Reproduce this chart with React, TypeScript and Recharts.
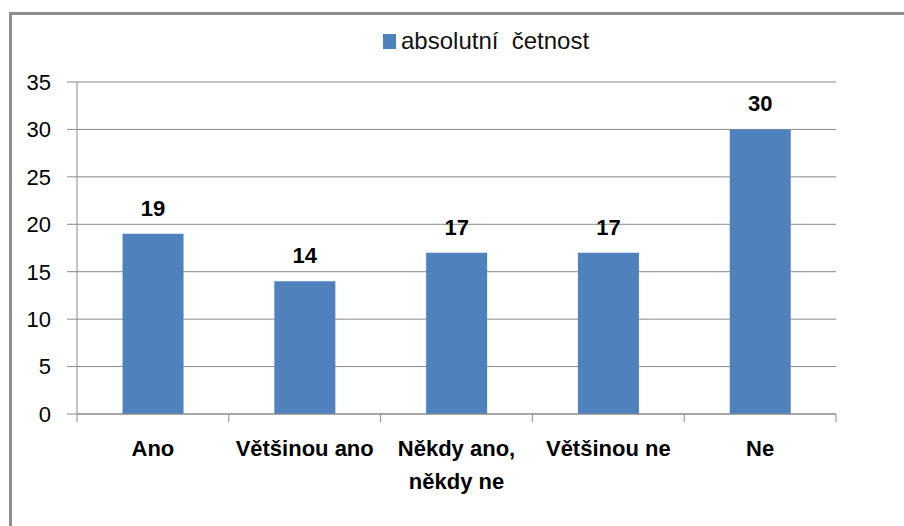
import { Bar, BarChart, CartesianGrid, LabelList, Legend, XAxis, YAxis } from "recharts";

const categories = ["Ano", "Většinou ano", "Někdy ano, někdy ne", "Většinou ne", "Ne"];
const counts = [19, 14, 17, 17, 30];
const yTicks = [0, 5, 10, 15, 20, 25, 30, 35];
const seriesName = "absolutní  četnost";

const BLUE = "#4F81BD";
const GRID = "#8a8a8a";
const FONT = "'Liberation Sans', Arial, sans-serif";

const data = categories.map((name, i) => ({ name, count: counts[i] }));

// Excel-style category axis: tick marks sit on the band edges, labels wrap after a comma
function CategoryTick(props: any) {
  const { x, y, payload, index, width, visibleTicksCount } = props;
  const half = payload.offset || width / visibleTicksCount / 2;
  const lines = String(payload.value).split(/(?<=,)\s/);
  return (
    <g>
      {index === 0 && <line x1={x - half} x2={x - half} y1={y} y2={y + 8} stroke={GRID} />}
      <line x1={x + half} x2={x + half} y1={y} y2={y + 8} stroke={GRID} />
      <text x={x} y={y + 42} textAnchor="middle" fontWeight="bold" fontSize={22} fill="#000">
        {lines.map((l, i) => (
          <tspan key={i} x={x} dy={i === 0 ? 0 : 33}>
            {l}
          </tspan>
        ))}
      </text>
    </g>
  );
}

function LegendBox() {
  return (
    <div style={{ display: "flex", alignItems: "center", height: 30, fontFamily: FONT }}>
      <span style={{ width: 13, height: 15, background: BLUE, marginRight: 5, display: "inline-block" }} />
      <span style={{ fontSize: 24, color: "#111", whiteSpace: "pre" }}>{seriesName}</span>
    </div>
  );
}

export default function App() {
  return (
    <div
      style={{
        position: "relative",
        width: 904,
        height: 526,
        overflow: "hidden",
        background: "#fff",
        fontFamily: FONT,
      }}
    >
      <style>{`body{margin:0}`}</style>
      <div
        style={{
          position: "absolute",
          left: 9,
          top: 12,
          width: 1000,
          height: 600,
          border: "3px solid #8d8d8d",
        }}
      />
      <div style={{ position: "absolute", left: 0, top: 0 }}>
        <BarChart
          width={904}
          height={526}
          data={data}
          margin={{ top: 52, right: 68, left: 0, bottom: 12 }}
          barCategoryGap="30%"
        >
          <CartesianGrid vertical={false} stroke={GRID} />
          <Legend
            verticalAlign="top"
            align="left"
            wrapperStyle={{ top: 26, left: 383, width: "auto" }}
            content={() => <LegendBox />}
          />
          <XAxis
            dataKey="name"
            interval={0}
            height={100}
            tickLine={false}
            tickSize={0}
            tickMargin={0}
            axisLine={{ stroke: GRID }}
            tick={<CategoryTick />}
          />
          <YAxis
            width={77}
            domain={[0, 35]}
            ticks={yTicks}
            interval={0}
            tickSize={10}
            tickMargin={16}
            axisLine={{ stroke: GRID }}
            tickLine={{ stroke: GRID }}
            tick={{ fill: "#000", fontSize: 22 }}
          />
          <Bar dataKey="count" name={seriesName} fill={BLUE} isAnimationActive={false}>
            <LabelList dataKey="count" position="top" offset={18} fontWeight="bold" fontSize={22} fill="#000" />
          </Bar>
        </BarChart>
      </div>
    </div>
  );
}
